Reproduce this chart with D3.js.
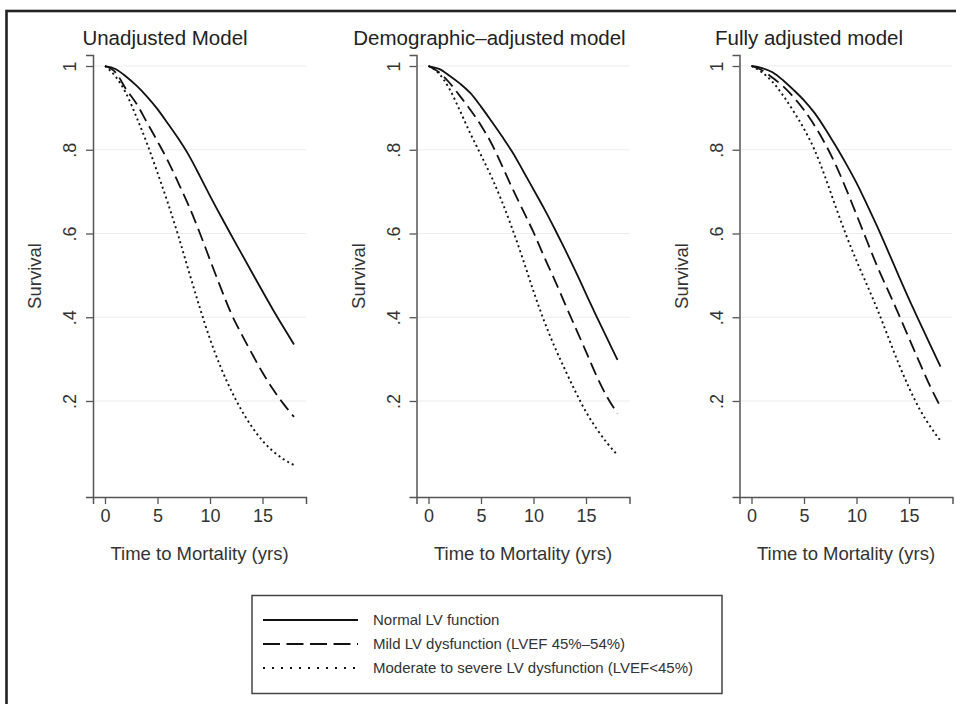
<!DOCTYPE html>
<html><head><meta charset="utf-8">
<script src="https://cdn.jsdelivr.net/npm/d3@7/dist/d3.min.js"></script>
<style>
body{margin:0;background:#fff;}
text{font-family:"Liberation Sans",Arial,Helvetica,sans-serif;}
</style>
</head><body>
<svg id="chart" width="956" height="704"></svg>
<script>
// ---- data ----
const years = [0,1,2,3,4,5,6,7,8,9,10,11,12,13,14,15,16,17,18];
const panelTitles = ["Unadjusted Model", "Demographic\u2013adjusted model", "Fully adjusted model"];
const seriesNames = ["Normal LV function", "Mild LV dysfunction (LVEF 45%\u201354%)", "Moderate to severe LV dysfunction (LVEF<45%)"];
const xTicks = [0, 5, 10, 15];
const yTicks = [0.2, 0.4, 0.6, 0.8, 1];
const yTickLabels = [".2", ".4", ".6", ".8", "1"];
const xTitle = "Time to Mortality (yrs)";
const yTitle = "Survival";

const unadjNormal   = [1, 0.993, 0.975, 0.953, 0.927, 0.897, 0.862, 0.826, 0.786, 0.739, 0.69, 0.643, 0.597, 0.552, 0.507, 0.462, 0.418, 0.376, 0.335];
const unadjMild     = [1, 0.985, 0.945, 0.91, 0.865, 0.82, 0.773, 0.72, 0.665, 0.603, 0.537, 0.472, 0.41, 0.36, 0.313, 0.268, 0.228, 0.193, 0.162];
const unadjModerate = [1, 0.975, 0.935, 0.878, 0.815, 0.745, 0.672, 0.593, 0.508, 0.425, 0.348, 0.282, 0.226, 0.178, 0.138, 0.105, 0.08, 0.061, 0.047];

const demoNormal    = [1, 0.993, 0.977, 0.958, 0.935, 0.903, 0.868, 0.832, 0.794, 0.75, 0.705, 0.66, 0.612, 0.562, 0.51, 0.456, 0.402, 0.35, 0.298];
const demoMild      = [1, 0.985, 0.96, 0.928, 0.895, 0.858, 0.815, 0.762, 0.707, 0.655, 0.603, 0.545, 0.49, 0.432, 0.375, 0.318, 0.26, 0.21, 0.17];
const demoModerate  = [1, 0.982, 0.945, 0.893, 0.838, 0.787, 0.735, 0.676, 0.61, 0.538, 0.462, 0.392, 0.33, 0.275, 0.222, 0.174, 0.134, 0.1, 0.071];

const fullNormal    = [1, 0.995, 0.985, 0.966, 0.943, 0.918, 0.888, 0.851, 0.81, 0.767, 0.721, 0.669, 0.615, 0.558, 0.5, 0.443, 0.389, 0.335, 0.282];
const fullMild      = [1, 0.99, 0.972, 0.952, 0.926, 0.895, 0.858, 0.815, 0.765, 0.707, 0.645, 0.582, 0.52, 0.464, 0.408, 0.35, 0.292, 0.236, 0.186];
const fullModerate  = [1, 0.985, 0.962, 0.93, 0.892, 0.85, 0.8, 0.736, 0.665, 0.597, 0.535, 0.477, 0.418, 0.354, 0.29, 0.232, 0.181, 0.14, 0.105];

const panelSeries = [
  [unadjNormal, unadjMild, unadjModerate],
  [demoNormal, demoMild, demoModerate],
  [fullNormal, fullMild, fullModerate]
];

// ---- layout / style ----
const axisLeft = [93, 416.5, 739.5];
const titleCenter = [165, 489.5, 809];
const plotW = 213;
const dashStyles = [null, "13,6", "2,3.2"];
const legendDash = [null, "17,6.5", "2,7"];

const svg = d3.select("#chart");
svg.append("rect").attr("x",0).attr("y",0).attr("width",956).attr("height",704).attr("fill","#fff");
// outer frame (only left/top visible)
svg.append("rect").attr("x",6.5).attr("y",11).attr("width",1200).attr("height",1200)
  .attr("fill","none").attr("stroke","#222").attr("stroke-width",2.6);

const y = d3.scaleLinear().domain([-0.0293, 1.0263]).range([497, 55]);

panelSeries.forEach((series, p) => {
  const ax = axisLeft[p];
  const x = d3.scaleLinear().domain([-1.143, 19.143]).range([ax, ax + plotW]);
  const g = svg.append("g");

  // gridlines
  g.selectAll("line.grid").data(yTicks).enter().append("line")
    .attr("x1", ax).attr("x2", ax + plotW)
    .attr("y1", d => y(d)).attr("y2", d => y(d))
    .attr("stroke", "#ececec").attr("stroke-width", 1.2);

  // x axis
  const xa = g.append("g").attr("transform", `translate(0,${y.range()[0]})`)
    .call(d3.axisBottom(x).tickValues(xTicks).tickSizeOuter(0).tickSize(7).tickPadding(5));
  xa.select(".domain").attr("stroke", "#555").attr("stroke-width", 1.5);
  xa.selectAll(".tick line").attr("stroke", "#555").attr("stroke-width", 1.3);
  xa.selectAll(".tick text").attr("font-size", 18).attr("fill", "#333")
    .attr("font-family", '"Liberation Sans",Arial,sans-serif');

  // y axis
  const ya = g.append("g").attr("transform", `translate(${ax},0)`)
    .call(d3.axisLeft(y).tickValues(yTicks).tickSizeOuter(0).tickSize(7).tickFormat((d, i) => yTickLabels[i]));
  ya.select(".domain").attr("stroke", "#555").attr("stroke-width", 1.5);
  ya.selectAll(".tick line").attr("stroke", "#555").attr("stroke-width", 1.3);
  ya.selectAll(".tick text").remove();
  ya.selectAll(".tick").append("text")
    .attr("transform", "translate(-17,0) rotate(-90)")
    .attr("text-anchor", "middle").attr("font-size", 18).attr("fill", "#333")
    .text((d, i) => yTickLabels[i]);

  // axis titles
  g.append("text").attr("x", ax + plotW / 2).attr("y", 560)
    .attr("text-anchor", "middle").attr("font-size", 18.5).attr("fill", "#333").text(xTitle);
  g.append("text").attr("transform", `translate(${ax - 52},276) rotate(-90)`)
    .attr("text-anchor", "middle").attr("font-size", 18.5).attr("fill", "#333").text(yTitle);

  // panel title
  g.append("text").attr("x", titleCenter[p]).attr("y", 45)
    .attr("text-anchor", "middle").attr("font-size", 20.5).attr("fill", "#222").text(panelTitles[p]);

  // curves
  const line = d3.line().x((d, i) => x(years[i])).y(d => y(d)).curve(d3.curveMonotoneX);
  series.forEach((vals, s) => {
    const path = g.append("path").attr("d", line(vals))
      .attr("fill", "none").attr("stroke", "#111")
      .attr("stroke-width", s === 2 ? 1.9 : 1.8);
    if (dashStyles[s]) path.attr("stroke-dasharray", dashStyles[s]);
  });
});

// legend
const lg = svg.append("g");
lg.append("rect").attr("x", 252).attr("y", 595.5).attr("width", 470).attr("height", 98)
  .attr("fill", "#fff").attr("stroke", "#444").attr("stroke-width", 1.5);
const legendY = [620, 644, 668];
seriesNames.forEach((name, i) => {
  const l = lg.append("line").attr("x1", 263).attr("x2", 358)
    .attr("y1", legendY[i]).attr("y2", legendY[i])
    .attr("stroke", "#111").attr("stroke-width", 1.9);
  if (legendDash[i]) l.attr("stroke-dasharray", legendDash[i]);
  lg.append("text").attr("x", 373).attr("y", legendY[i] + 5.3)
    .attr("font-size", 15).attr("fill", "#333").text(name);
});
</script>
</body></html>
